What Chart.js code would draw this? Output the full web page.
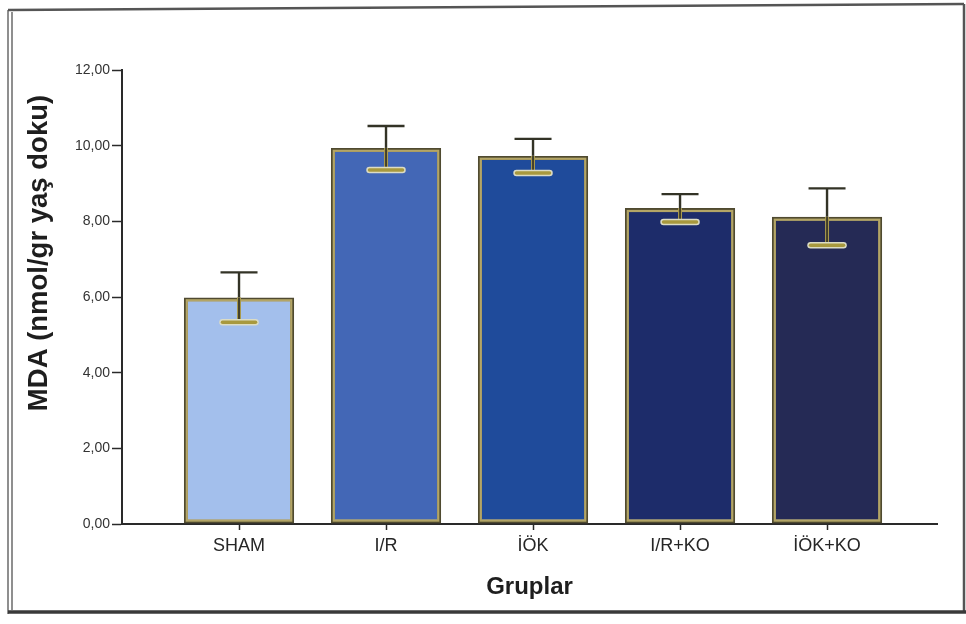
<!DOCTYPE html>
<html>
<head>
<meta charset="utf-8">
<title>MDA düzeyleri</title>
<script src="https://cdn.jsdelivr.net/npm/chart.js@4/dist/chart.umd.min.js"></script>
<style>
  html, body { margin: 0; padding: 0; background: #fff; }
  #wrap { position: relative; width: 966px; height: 624px; }
</style>
</head>
<body>
<div id="wrap"><canvas id="c" width="966" height="624"></canvas></div>
<script>
// Groups and measured MDA means with their error margins
const groups = ['SHAM', 'I/R', 'İÖK', 'I/R+KO', 'İÖK+KO'];
const mdaMean = [5.99, 9.94, 9.73, 8.35, 8.12];
const mdaError = [0.66, 0.58, 0.45, 0.37, 0.75];
const yTicks = [0, 2, 4, 6, 8, 10, 12];

const barColors = ['#a3bfec', '#4367b6', '#1f4b9b', '#1d2c6a', '#252a55'];
const FONT = '"Liberation Sans", Arial, sans-serif';

// Page frame, painted behind the chart
const framePlugin = {
  id: 'frame',
  beforeDraw(chart) {
    const ctx = chart.ctx;
    ctx.save();
    ctx.fillStyle = '#ffffff';
    ctx.fillRect(0, 0, chart.width, chart.height);
    ctx.strokeStyle = '#6a6a6a';
    ctx.lineWidth = 1.5;
    ctx.beginPath(); ctx.moveTo(8, 10); ctx.lineTo(8, 614); ctx.stroke();
    ctx.beginPath(); ctx.moveTo(12, 12); ctx.lineTo(12, 610); ctx.stroke();
    ctx.strokeStyle = '#555';
    ctx.lineWidth = 2.5;
    ctx.beginPath(); ctx.moveTo(8, 10); ctx.lineTo(964, 4); ctx.stroke();
    ctx.beginPath(); ctx.moveTo(964, 4); ctx.lineTo(964, 612); ctx.stroke();
    ctx.strokeStyle = '#3a3a3a';
    ctx.lineWidth = 3.5;
    ctx.beginPath(); ctx.moveTo(8, 612); ctx.lineTo(966, 612); ctx.stroke();
    ctx.restore();
  }
};

// Two-tone bar outline and error bars
const errorBarPlugin = {
  id: 'errorBars',
  afterDatasetsDraw(chart) {
    const ctx = chart.ctx;
    const yScale = chart.scales.y;
    const meta = chart.getDatasetMeta(0);
    ctx.save();
    meta.data.forEach((bar, i) => {
      const p = bar.getProps(['x', 'y', 'base', 'width'], true);
      const left = p.x - p.width / 2;
      // inner khaki rim of the outline
      ctx.strokeStyle = '#b3a566';
      ctx.lineWidth = 2.2;
      ctx.strokeRect(left + 2.9, p.y + 2.9, p.width - 5.8, p.base - p.y - 5.8);

      const yHi = yScale.getPixelForValue(mdaMean[i] + mdaError[i]);
      const yLo = yScale.getPixelForValue(mdaMean[i] - mdaError[i]);
      const yMid = yScale.getPixelForValue(mdaMean[i]);
      const half = 18.5;
      ctx.lineCap = 'butt';
      // stem above the bar
      ctx.strokeStyle = '#333326';
      ctx.lineWidth = 2.4;
      ctx.beginPath(); ctx.moveTo(p.x, yHi); ctx.lineTo(p.x, yMid); ctx.stroke();
      // stem inside the bar
      ctx.strokeStyle = '#a89a4e';
      ctx.lineWidth = 4;
      ctx.beginPath(); ctx.moveTo(p.x, yMid); ctx.lineTo(p.x, yLo); ctx.stroke();
      ctx.strokeStyle = '#3a3828';
      ctx.lineWidth = 1.8;
      ctx.beginPath(); ctx.moveTo(p.x, yMid); ctx.lineTo(p.x, yLo); ctx.stroke();
      // upper cap
      ctx.strokeStyle = '#333326';
      ctx.lineWidth = 2.4;
      ctx.beginPath(); ctx.moveTo(p.x - half, yHi); ctx.lineTo(p.x + half, yHi); ctx.stroke();
      // lower cap
      ctx.lineCap = 'round';
      ctx.strokeStyle = '#dcdcc4';
      ctx.lineWidth = 6.5;
      ctx.beginPath(); ctx.moveTo(p.x - half + 2, yLo); ctx.lineTo(p.x + half - 2, yLo); ctx.stroke();
      ctx.strokeStyle = '#a8993e';
      ctx.lineWidth = 3.5;
      ctx.beginPath(); ctx.moveTo(p.x - half + 2, yLo); ctx.lineTo(p.x + half - 2, yLo); ctx.stroke();
    });
    ctx.restore();
  }
};

// Rotated value-axis title
const yTitlePlugin = {
  id: 'yTitle',
  afterDraw(chart) {
    const ctx = chart.ctx;
    ctx.save();
    ctx.translate(39, 253);
    ctx.rotate(-Math.PI / 2);
    ctx.font = 'bold 27.5px ' + FONT;
    ctx.fillStyle = '#1e1e1e';
    ctx.textAlign = 'center';
    ctx.textBaseline = 'middle';
    ctx.fillText('MDA (nmol/gr yaş doku)', 0, 0);
    ctx.restore();
  }
};

new Chart(document.getElementById('c'), {
  type: 'bar',
  data: {
    datasets: [{
      data: groups.map((g, i) => ({ x: i, y: mdaMean[i] })),
      backgroundColor: barColors,
      borderColor: '#4f4a30',
      borderWidth: 4,
      borderSkipped: false,
      categoryPercentage: 1,
      barPercentage: 0.75
    }]
  },
  options: {
    responsive: false,
    animation: false,
    devicePixelRatio: 1,
    layout: { padding: { left: 0, right: 29, top: 70, bottom: 0 } },
    plugins: { legend: { display: false }, tooltip: { enabled: false } },
    scales: {
      x: {
        type: 'linear',
        offset: false,
        min: -0.796,
        max: 4.748,
        afterBuildTicks(scale) {
          scale.ticks = groups.map((g, i) => ({ value: i }));
        },
        afterFit(scale) { scale.height = 100; },
        ticks: {
          callback: (v) => groups[v],
          color: '#262626',
          font: { family: FONT, size: 18 },
          padding: 5,
          maxRotation: 0,
          autoSkip: false
        },
        grid: { offset: false, drawOnChartArea: false, tickLength: 6, color: '#2a2a2a', tickWidth: 1.5 },
        border: { color: '#2a2a2a', width: 2 },
        title: {
          display: true,
          text: 'Gruplar',
          color: '#1e1e1e',
          font: { family: FONT, size: 24, weight: 'bold' },
          padding: { top: 0, bottom: 22 }
        }
      },
      y: {
        min: 0,
        max: 12,
        afterBuildTicks(scale) {
          scale.ticks = yTicks.map(v => ({ value: v }));
        },
        afterFit(scale) { scale.width = 122; },
        ticks: {
          callback: (v) => v.toFixed(2).replace('.', ','),
          color: '#333',
          font: { family: FONT, size: 14 },
          padding: 2
        },
        grid: { drawOnChartArea: false, tickLength: 10, color: '#2a2a2a', tickWidth: 1.5 },
        border: { color: '#2a2a2a', width: 2 }
      }
    }
  },
  plugins: [framePlugin, errorBarPlugin, yTitlePlugin]
});
</script>
</body>
</html>
